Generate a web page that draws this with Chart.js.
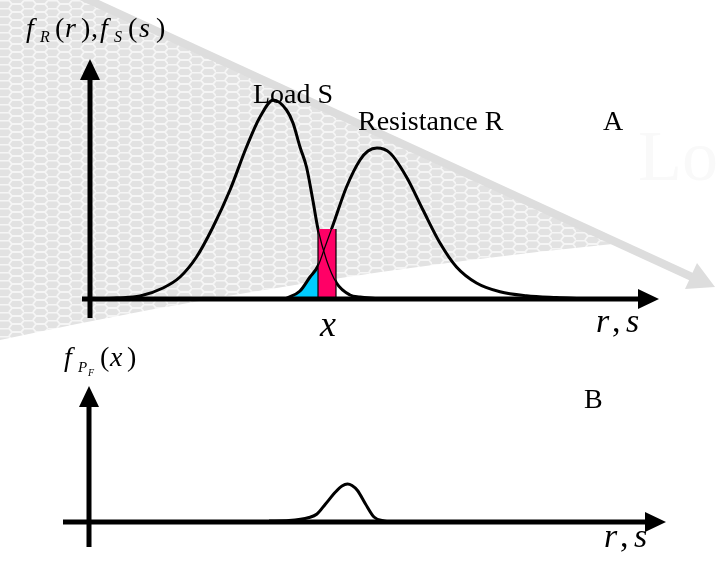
<!DOCTYPE html>
<html>
<head>
<meta charset="utf-8">
<script src="https://cdn.jsdelivr.net/npm/chart.js@4"></script>
<style>
  body { margin: 0; background: #fff; }
  #wrap { position: relative; width: 718px; height: 562px; }
  #wrap canvas { position: absolute; left: 0; top: 0; }
</style>
</head>
<body>
<div id="wrap">
  <canvas id="panelA" width="718" height="562"></canvas>
  <canvas id="panelB" width="718" height="562"></canvas>
</div>
<script>
// load S density
let loadX = [0.30, 0.54, 1.00, 1.46, 1.80, 2.13, 2.46, 2.80, 3.13, 3.40, 3.67, 3.93, 4.06, 4.20, 4.33, 4.46, 4.56, 4.73, 4.93, 5.20, 5.40, 5.70];
let loadY = [0.002, 0.005, 0.015, 0.055, 0.11, 0.21, 0.36, 0.545, 0.76, 0.91, 0.995, 0.945, 0.88, 0.76, 0.66, 0.49, 0.35, 0.195, 0.08, 0.02, 0.01, 0.0025];

// resistance R density
let resX = [3.92, 4.20, 4.40, 4.56, 4.70, 4.86, 5.13, 5.40, 5.56, 5.74, 6.00, 6.33, 6.66, 7.00, 7.33, 7.73, 8.20, 8.73, 9.33, 9.80];
let resY = [0.0025, 0.04, 0.11, 0.165, 0.26, 0.37, 0.56, 0.695, 0.74, 0.755, 0.73, 0.61, 0.445, 0.28, 0.16, 0.08, 0.036, 0.016, 0.007, 0.0025];

// failure density f_PF(x)
let pfX = [3.60, 4.00, 4.40, 4.56, 4.73, 4.93, 5.06, 5.17, 5.26, 5.37, 5.53, 5.70, 5.90, 6.10];
let pfY = [0.005, 0.0075, 0.0225, 0.04, 0.09, 0.15, 0.18, 0.19, 0.1825, 0.1575, 0.09, 0.025, 0.005, 0.0];

// strip at x of width dx
let xStrip = 4.56;
let dx = 0.36;

const toPts = (xs, ys) => xs.map((x, i) => ({ x: x, y: ys[i] }));
let loadPts = toPts(loadX, loadY);
let resPts = toPts(resX, resY);
let pfPts = toPts(pfX, pfY);
let stripH = loadPts.find(p => p.x === xStrip).y;
let stripPts = [
    { x: xStrip, y: 0 }, { x: xStrip, y: stripH },
    { x: xStrip + dx, y: stripH }, { x: xStrip + dx, y: 0 }
];
let cyanPts = resPts.filter(p => p.x <= xStrip);

const SERIF = '"Liberation Serif", "Times New Roman", serif';

function txt(ctx, s, x, y, size, italic, align) {
    ctx.font = (italic ? 'italic ' : '') + size + 'px ' + SERIF;
    ctx.textAlign = align || 'left';
    ctx.textBaseline = 'alphabetic';
    ctx.fillStyle = '#000';
    ctx.fillText(s, x, y);
}

// axes with arrow heads, drawn from the scales
function drawAxes(chart, opt) {
    const ctx = chart.ctx;
    const xs = chart.scales.x, ys = chart.scales.y;
    const ox = xs.getPixelForValue(0), oy = ys.getPixelForValue(0);
    const top = chart.chartArea.top, right = chart.chartArea.right;
    ctx.save();
    ctx.strokeStyle = '#000';
    ctx.fillStyle = '#000';
    ctx.lineWidth = 5;
    ctx.beginPath();
    ctx.moveTo(ox, oy + opt.below);
    ctx.lineTo(ox, top + 18);
    ctx.moveTo(ox - opt.left, oy);
    ctx.lineTo(right - 18, oy);
    ctx.stroke();
    ctx.beginPath();
    ctx.moveTo(ox, top);
    ctx.lineTo(ox - 10, top + 21);
    ctx.lineTo(ox + 10, top + 21);
    ctx.closePath();
    ctx.moveTo(right, oy);
    ctx.lineTo(right - 21, oy - 10);
    ctx.lineTo(right - 21, oy + 10);
    ctx.closePath();
    ctx.fill();
    ctx.restore();
}

// faint grey arrow in the background of the upper panel
function drawBackdrop(ctx) {
    const tile = document.createElement('canvas');
    tile.width = 24; tile.height = 8;
    const t = tile.getContext('2d');
    t.fillStyle = '#e2e2e2';
    t.fillRect(0, 0, 24, 8);
    t.strokeStyle = '#f5f5f5';
    t.lineWidth = 1.8;
    t.beginPath();
    t.moveTo(0, 0.5); t.lineTo(9, 0.5); t.lineTo(12, 4); t.lineTo(21, 4); t.lineTo(24, 0.5);
    t.moveTo(12, 4); t.lineTo(9, 8);
    t.moveTo(21, 4); t.lineTo(24, 8);
    t.stroke();

    ctx.save();
    ctx.fillStyle = ctx.createPattern(tile, 'repeat');
    ctx.beginPath();
    ctx.moveTo(0, -41);
    ctx.lineTo(622, 243);
    ctx.quadraticCurveTo(300, 275, 0, 340);
    ctx.closePath();
    ctx.fill();

    ctx.strokeStyle = '#dddddd';
    ctx.lineWidth = 8;
    ctx.beginPath();
    ctx.moveTo(0, -41);
    ctx.lineTo(692, 277);
    ctx.stroke();
    ctx.fillStyle = '#dddddd';
    ctx.beginPath();
    ctx.moveTo(715, 287);
    ctx.lineTo(685, 289);
    ctx.lineTo(697, 263);
    ctx.closePath();
    ctx.fill();

    ctx.font = '72px ' + SERIF;
    ctx.fillStyle = '#f9f9f9';
    ctx.fillText('Lo', 638, 180);
    ctx.restore();
}

const panelAPlugin = {
    id: 'panelA',
    beforeDraw(chart) { drawBackdrop(chart.ctx); },
    afterDraw(chart) {
        const ctx = chart.ctx;
        drawAxes(chart, { below: 19, left: 8 });
        // f_R(r), f_S(s)
        txt(ctx, 'f', 26, 37, 28, true);
        txt(ctx, 'R', 40, 42, 16, true);
        txt(ctx, '(', 55, 37, 28, false);
        txt(ctx, 'r', 65, 37, 28, true);
        txt(ctx, ')', 81, 37, 28, false);
        txt(ctx, ',', 91, 37, 28, false);
        txt(ctx, 'f', 100, 37, 28, true);
        txt(ctx, 'S', 114, 42, 16, true);
        txt(ctx, '(', 128, 37, 28, false);
        txt(ctx, 's', 139, 37, 28, true);
        txt(ctx, ')', 156, 37, 28, false);

        txt(ctx, 'Load S', 253, 103, 28, false);
        txt(ctx, 'Resistance R', 358, 130, 28, false);
        txt(ctx, 'A', 603, 130, 28, false);

        const xs = chart.scales.x;
        txt(ctx, 'x', xs.getPixelForValue(xStrip + dx / 2) + 1, 336, 36, true, 'center');
        txt(ctx, 'r', 596, 332, 34, true);
        txt(ctx, ',', 612, 332, 34, false);
        txt(ctx, 's', 626, 332, 34, true);
    }
};

const panelBPlugin = {
    id: 'panelB',
    afterDraw(chart) {
        const ctx = chart.ctx;
        drawAxes(chart, { below: 25, left: 26 });
        txt(ctx, 'f', 64, 366, 28, true);
        txt(ctx, 'P', 78, 372, 15, true);
        txt(ctx, 'F', 88, 376, 10, true);
        txt(ctx, '(', 100, 366, 28, false);
        txt(ctx, 'x', 110, 366, 28, true);
        txt(ctx, ')', 127, 366, 28, false);
        txt(ctx, 'B', 584, 408, 28, false);
        txt(ctx, 'r', 604, 547, 34, true);
        txt(ctx, ',', 620, 547, 34, false);
        txt(ctx, 's', 634, 547, 34, true);
    }
};

const curve = (pts, w, order) => ({
    data: pts, borderColor: '#000', borderWidth: w, pointRadius: 0,
    cubicInterpolationMode: 'monotone', fill: false, order: order
});

const baseOptions = (pad, xmax, ymax) => ({
    responsive: false,
    animation: false,
    events: [],
    layout: { padding: pad },
    plugins: { legend: { display: false }, tooltip: { enabled: false } },
    scales: {
        x: { type: 'linear', min: 0, max: xmax, display: false },
        y: { type: 'linear', min: 0, max: ymax, display: false }
    }
});

new Chart(document.getElementById('panelA'), {
    type: 'line',
    data: {
        datasets: [
            // thin lines visible over the strip
            curve(loadPts, 1.2, 0),
            curve(resPts, 1.2, 0),
            {
                data: stripPts, borderWidth: 1.2, pointRadius: 0, tension: 0,
                backgroundColor: '#ff0066', fill: 'origin', order: 1,
                segment: { borderColor: c => c.p0DataIndex === 1 ? 'rgba(0,0,0,0)' : '#000' }
            },
            curve(loadPts, 3, 2),
            curve(resPts, 3, 2),
            {
                data: cyanPts, borderWidth: 0, pointRadius: 0,
                cubicInterpolationMode: 'monotone',
                backgroundColor: '#00ccff', fill: 'origin', order: 3
            }
        ]
    },
    options: baseOptions({ left: 90, right: 59, top: 59, bottom: 263 }, 11.38, 1.2),
    plugins: [panelAPlugin]
});

new Chart(document.getElementById('panelB'), {
    type: 'line',
    data: { datasets: [curve(pfPts, 3, 0)] },
    options: baseOptions({ left: 89, right: 52, top: 386, bottom: 40 }, 11.54, 0.68),
    plugins: [panelBPlugin]
});
</script>
</body>
</html>
